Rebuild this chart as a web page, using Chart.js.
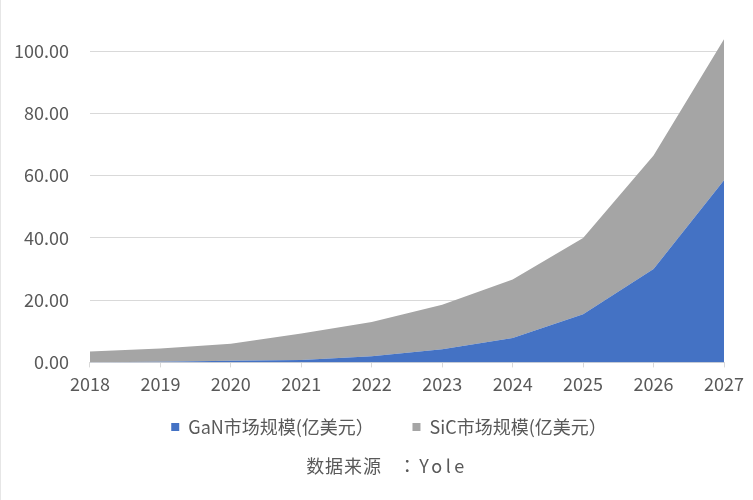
<!DOCTYPE html>
<html>
<head>
<meta charset="utf-8">
<script src="https://cdn.jsdelivr.net/npm/chart.js@4"></script>
<style>
    body { margin: 0; background: #fff; }
    #wrap { position: relative; width: 753px; height: 500px; border-left: 1px solid #e6e6e6; box-sizing: border-box; }
    #source {
        position: absolute; left: 0; width: 753px; top: 452px; padding-left: 19px; box-sizing: border-box;
        text-align: center; font: 18px "Noto Sans CJK SC", sans-serif; color: #595959; letter-spacing: 1px;
    }
    #source .colon { font-family: "Noto Sans CJK JP"; margin-left: 16px; margin-right: 3px; letter-spacing: 0; }
    #source .yole { letter-spacing: 3.5px; }
</style>
</head>
<body>
<div id="wrap">
    <canvas id="areaChart" width="752" height="500"></canvas>
    <div id="source">数据来源<span class="colon">：</span><span class="yole">Yole</span></div>
</div>
<script>
// =======================
// DATA
// =======================
let years = ["2018", "2019", "2020", "2021", "2022", "2023", "2024", "2025", "2026", "2027"];
let ganMarket = [0.05, 0.2, 0.5, 0.8, 2.0, 4.2, 7.8, 15.5, 30.0, 58.5];
let sicMarket = [3.45, 4.3, 5.5, 8.5, 11.0, 14.3, 18.8, 24.5, 36.5, 45.3];
let yTicks = [0, 20, 40, 60, 80, 100];

const FONT = '"Noto Sans CJK SC", sans-serif';
const TEXT = "#595959";
const GRID = "#d9d9d9";

// =======================
// STACKED AREA CHART
// =======================
new Chart(document.getElementById("areaChart"), {
    type: "line",
    data: {
        labels: years,
        datasets: [
            {
                // trailing blanks only widen the gap between legend items
                label: "GaN市场规模(亿美元）　\u2002\u2009",
                data: ganMarket,
                backgroundColor: "#4472C4",
                borderColor: "#4472C4",
                borderWidth: 0,
                pointRadius: 0,
                fill: "origin"
            },
            {
                label: "SiC市场规模(亿美元）　　\u2002",
                data: sicMarket,
                backgroundColor: "#A5A5A5",
                borderColor: "#A5A5A5",
                borderWidth: 0,
                pointRadius: 0,
                fill: "-1"
            }
        ]
    },
    options: {
        responsive: false,
        animation: false,
        layout: { padding: { top: 0, right: 29, left: -8, bottom: 54 } },
        plugins: {
            tooltip: { enabled: false },
            legend: {
                position: "bottom",
                fullSize: false,
                labels: {
                    boxWidth: 8, boxHeight: 8, padding: 17,
                    color: TEXT, font: { family: FONT, size: 18 }
                }
            }
        },
        scales: {
            x: {
                offset: false,
                grid: { drawOnChartArea: false, drawTicks: true, tickLength: 5, color: GRID },
                border: { color: GRID },
                ticks: { color: TEXT, font: { family: FONT, size: 18 }, padding: 6, maxRotation: 0 }
            },
            y: {
                stacked: true,
                min: 0,
                max: 106.2,
                afterBuildTicks: axis => { axis.ticks = yTicks.map(v => ({ value: v })); },
                grid: { color: GRID, drawTicks: false },
                border: { display: false },
                ticks: {
                    color: TEXT, font: { family: FONT, size: 18 }, padding: 21,
                    callback: v => Number(v).toFixed(2)
                }
            }
        }
    }
});
</script>
</body>
</html>
